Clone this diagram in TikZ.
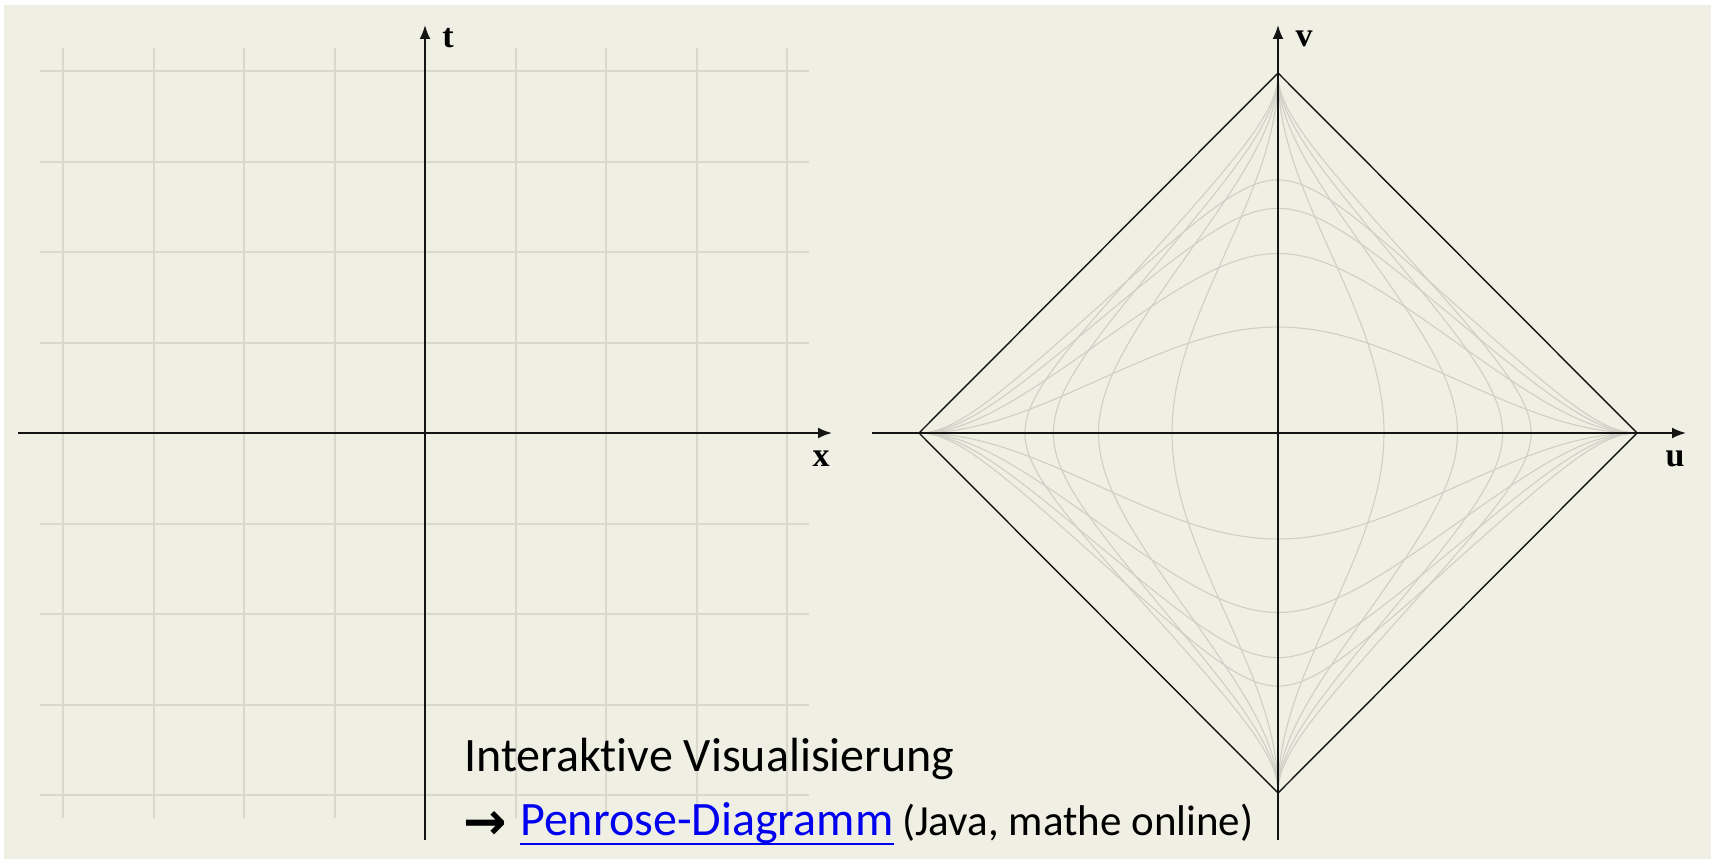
\documentclass[tikz,border=0pt]{standalone}
\usepackage{fontspec}
\setmainfont[Ligatures=NoCommon]{Carlito}
\newfontfamily\labelfont{Liberation Serif}
\newfontfamily\symfont{DejaVu Sans}
\usetikzlibrary{arrows.meta}
\definecolor{bg}{RGB}{240,239,228}
\definecolor{gridc}{RGB}{217,216,205}
\definecolor{curvec}{RGB}{208,207,197}
\definecolor{axisc}{RGB}{20,20,20}
\definecolor{linkc}{RGB}{0,0,240}
\tikzset{
  gridline/.style={gridc, line width=2pt},
  penrosecurve/.style={curvec, line width=1.1pt},
  axisline/.style={axisc, line width=2pt, -{Latex[length=14pt,width=11pt]}},
  diamondline/.style={axisc, line width=1.4pt, line join=miter},
  axislabel/.style={font=\labelfont\bfseries\fontsize{34}{38}\selectfont, inner sep=0pt, anchor=base},
  bigtext/.style={font=\fontsize{48}{56}\selectfont, inner sep=0pt, anchor=base west},
}
\begin{document}
\begin{tikzpicture}[x=1pt,y=-1pt]
\useasboundingbox (0,0) rectangle (1715,859);
\fill[white] (0,0) rectangle (1715,859);
\fill[bg] (4,5) rectangle (1711,859);

% left grid
\foreach \i in {0,1,2,3,5,6,7,8}{
  \draw[gridline] ({63+90.5*\i},48) -- ({63+90.5*\i},818);
  \draw[gridline] (40,{71+90.5*\i}) -- (809,{71+90.5*\i});
}

% left axes
\coordinate (tS) at (425,840);
\coordinate (tE) at (425,25);
\coordinate (xS) at (18,433);
\coordinate (xE) at (832,433);
\draw[axisline] (tS) -- (tE);
\draw[axisline] (xS) -- (xE);
\node[axislabel] (tlab) at (448,48) {t};
\node[axislabel] (xlab) at (821,466) {x};

% Penrose curves
\foreach \c in {-2,-1.5,-1,-0.5,0.5,1,1.5,2}{
  \draw[penrosecurve] plot[domain=-89.6:89.6, samples=301, variable=\s]
    ({1278 + 3.98889*(atan(\c+tan(\s)) - atan(\c-tan(\s)))/2},
     {433 - 3.98889*(atan(\c+tan(\s)) + atan(\c-tan(\s)))/2});
  \draw[penrosecurve] plot[domain=-89.6:89.6, samples=301, variable=\s]
    ({1278 + 3.98889*(atan(tan(\s)+\c) - atan(tan(\s)-\c))/2},
     {433 - 3.98889*(atan(tan(\s)+\c) + atan(tan(\s)-\c))/2});
}

% diamond
\coordinate (L) at (919,433);
\coordinate (T) at (1278,73);
\coordinate (R) at (1637,433);
\coordinate (B) at (1278,793);
\draw[diamondline] (L) -- (T) -- (R) -- (B) -- cycle;

% right axes
\coordinate (vS) at (1278,840);
\coordinate (vE) at (1278,25);
\coordinate (uS) at (872,433);
\coordinate (uE) at (1686,433);
\draw[axisline] (vS) -- (vE);
\draw[axisline] (uS) -- (uE);
\node[axislabel] (vlab) at (1304,47) {v};
\node[axislabel] (ulab) at (1675,466) {u};

% text
\node[bigtext] (title) at (464,771) {Interaktive Visualisierung};
\node[font=\symfont\bfseries\fontsize{52}{56}\selectfont, inner sep=0pt, anchor=base west] (arr) at (463,839) {→};
\node[bigtext, text=linkc] (link) at (520,835) {Penrose-Diagramm};
\draw[linkc, line width=2pt] ([yshift=-9pt]link.base west) -- ([yshift=-9pt]link.base east);
\node[font=\fontsize{43}{50}\selectfont, inner sep=0pt, anchor=base west] (note) at (902,835) {(Java, mathe online)};
\end{tikzpicture}
\end{document}
